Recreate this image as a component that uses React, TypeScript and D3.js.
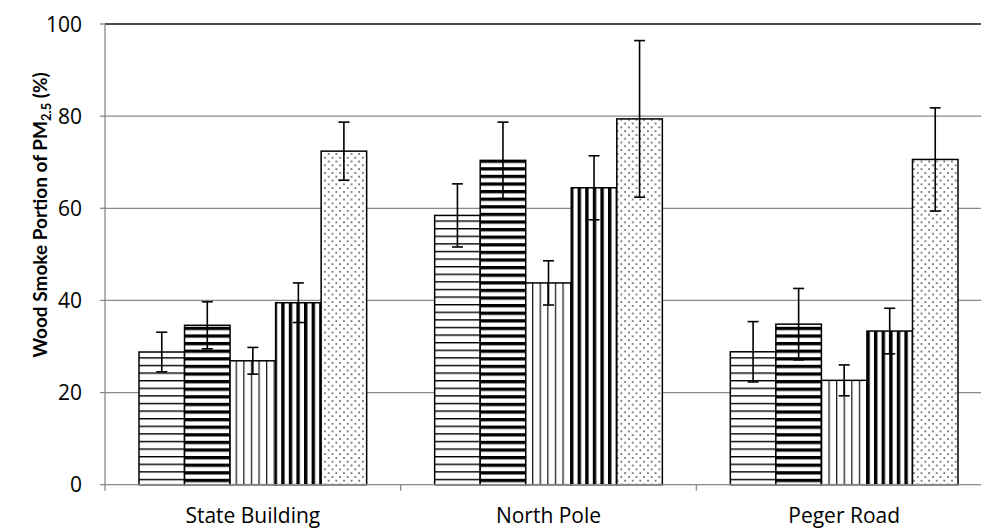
import React from "react";
import * as d3 from "d3";

const categories = ["State Building", "North Pole", "Peger Road"];
const seriesKeys = ["s1", "s2", "s3", "s4", "s5"];
const series1Values = [28.8, 58.45, 28.85];
const series1Err = [4.3, 6.85, 6.55];
const series2Values = [34.6, 70.4, 34.85];
const series2Err = [5.1, 8.3, 7.75];
const series3Values = [26.9, 43.8, 22.65];
const series3Err = [2.9, 4.8, 3.35];
const series4Values = [39.5, 64.45, 33.35];
const series4Err = [4.3, 6.95, 4.95];
const series5Values = [72.4, 79.4, 70.6];
const series5Err = [6.3, 17.0, 11.2];
const yTicks = [0, 20, 40, 60, 80, 100];

const seriesValues = [series1Values, series2Values, series3Values, series4Values, series5Values];
const seriesErrs = [series1Err, series2Err, series3Err, series4Err, series5Err];

const W = 981;
const H = 528;
const font = "'Open Sans', Lato, sans-serif";
const titleFont = "Lato, 'Open Sans', sans-serif";

export default function App() {
  const x0 = d3.scaleBand<string>().domain(categories).range([105, 992]).paddingInner(0).paddingOuter(0);
  const bw0 = x0.bandwidth();
  const x1 = d3.scaleBand<string>().domain(seriesKeys).range([34, bw0 - 34]).padding(0);
  const y = d3.scaleLinear().domain([0, 100]).range([484.7, 24]);
  const gridColor = "#898989";

  const bars: any[] = [];
  categories.forEach((c, ci) => {
    seriesKeys.forEach((k, si) => {
      const v = seriesValues[si][ci];
      const e = seriesErrs[si][ci];
      bars.push({ c, k, si, v, e, x: (x0(c) as number) + (x1(k) as number), w: x1.bandwidth() });
    });
  });

  return (
    <svg width={W} height={H} style={{ position: "absolute", left: 0, top: 0, background: "#fff" }}>
      <defs>
        <pattern id="p1" patternUnits="userSpaceOnUse" width="8" height="7.6">
          <rect width="8" height="7.6" fill="#fff" />
          <rect y="0" width="8" height="1.4" fill="#000" />
        </pattern>
        <pattern id="p2" patternUnits="userSpaceOnUse" width="8" height="7.6">
          <rect width="8" height="7.6" fill="#fff" />
          <rect y="0" width="8" height="3.3" fill="#000" />
        </pattern>
        <pattern id="p3" patternUnits="userSpaceOnUse" width="7.6" height="8">
          <rect width="7.6" height="8" fill="#fff" />
          <rect x="0" width="1.3" height="8" fill="#222" />
        </pattern>
        <pattern id="p4" patternUnits="userSpaceOnUse" width="7.6" height="8">
          <rect width="7.6" height="8" fill="#fff" />
          <rect x="0" width="3.4" height="8" fill="#000" />
        </pattern>
        <pattern id="p5" patternUnits="userSpaceOnUse" width="7.6" height="7.6">
          <rect width="7.6" height="7.6" fill="#fff" />
          <rect x="1.2" y="1.2" width="1.5" height="1.5" fill="#333" />
          <rect x="5" y="5" width="1.5" height="1.5" fill="#333" />
        </pattern>
      </defs>

      {/* gridlines */}
      {yTicks.filter((t) => t > 0).map((t) => (
        <line key={"g" + t} x1={105} x2={992} y1={y(t)} y2={y(t)}
          stroke={t === 100 ? "#111" : gridColor} strokeWidth={1.3} />
      ))}

      {/* bars */}
      {bars.map((b, i) => (
        <rect key={"b" + i} x={b.x} y={y(b.v)} width={b.w} height={y(0) - y(b.v)}
          fill={`url(#p${b.si + 1})`} stroke="#000" strokeWidth={1.5} />
      ))}

      {/* axes */}
      <line x1={105} x2={105} y1={24} y2={y(0)} stroke={gridColor} strokeWidth={1.3} />
      <line x1={105} x2={992} y1={y(0)} y2={y(0)} stroke={gridColor} strokeWidth={1.3} />
      {yTicks.map((t) => (
        <g key={"t" + t}>
          <line x1={100} x2={105} y1={y(t)} y2={y(t)} stroke={gridColor} strokeWidth={1.3} />
          <text x={82} y={y(t)} dy="0.36em" textAnchor="end" fontFamily={font} fontSize={21} fill="#000">{t}</text>
        </g>
      ))}
      {[...categories.map((c) => x0(c) as number), 992].map((xv, i) => (
        <line key={"xt" + i} x1={xv} x2={xv} y1={y(0)} y2={y(0) + 6} stroke={gridColor} strokeWidth={1.3} />
      ))}
      {categories.map((c) => (
        <text key={"xl" + c} x={(x0(c) as number) + bw0 / 2} y={523} textAnchor="middle"
          fontFamily={font} fontSize={21} fill="#000">{c}</text>
      ))}

      {/* error bars */}
      {bars.map((b, i) => {
        const cx = b.x + b.w / 2;
        const yt = y(b.v + b.e);
        const yb = y(b.v - b.e);
        return (
          <g key={"e" + i} stroke="#000" strokeWidth={1.6}>
            <line x1={cx} x2={cx} y1={yt} y2={yb} />
            <line x1={cx - 5.5} x2={cx + 5.5} y1={yt} y2={yt} />
            <line x1={cx - 5.5} x2={cx + 5.5} y1={yb} y2={yb} />
          </g>
        );
      })}

      {/* y title */}
      <text transform="translate(47,215) rotate(-90)" textAnchor="middle" fontFamily={titleFont}
        fontWeight="bold" fontSize={19} fill="#000">
        Wood Smoke Portion of PM<tspan fontSize={13} dy={4}>2.5</tspan><tspan dy={-4}> (%)</tspan>
      </text>
    </svg>
  );
}
